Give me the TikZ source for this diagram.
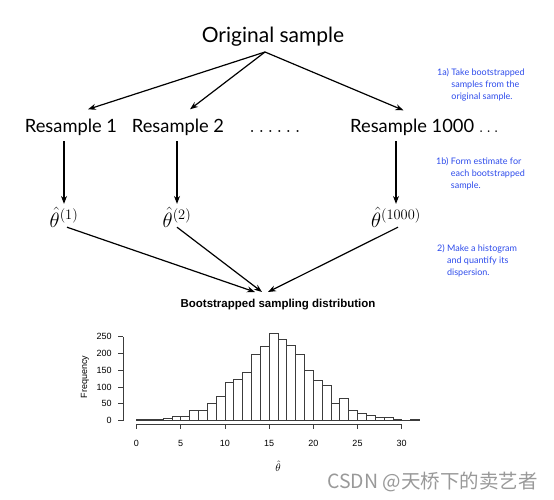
\documentclass[tikz,border=0pt]{standalone}
\usepackage{amsmath}
\usepackage{xcolor}
\usepackage[no-math]{fontspec}
\usetikzlibrary{arrows, arrows.meta}
\newfontfamily\gillfont{Lato}
\newfontfamily\rfont{Liberation Sans}
\newfontfamily\cjkfont{Noto Sans CJK SC}
\definecolor{noteblue}{RGB}{45,75,235}
\definecolor{bargray}{RGB}{60,60,60}

\begin{document}
\begin{tikzpicture}[x=1pt, y=-1pt,
  big/.style={font=\gillfont\fontsize{18.3}{22}\selectfont, inner sep=0pt, anchor=base},
  est/.style={font=\fontsize{21}{25}\selectfont, inner sep=0pt, anchor=base},
  note/.style={font=\gillfont\fontsize{9}{12}\selectfont, text=noteblue, anchor=west, inner sep=0pt},
  arr/.style={-{Stealth[length=8pt,width=6pt]}, line width=1.2pt},
  bar/.style={draw=bargray, fill=white, line width=0.7pt},
  ax/.style={draw=bargray, line width=0.7pt},
  rlab/.style={font=\rfont\fontsize{9}{10}\selectfont, inner sep=0pt}]
\useasboundingbox (0,0) rectangle (554,500);
\node[big, font=\gillfont\fontsize{21}{25}\selectfont] (orig) at (273,43) {Original sample};
\node[big] (r1) at (71,133) {Resample 1};
\node[big] (r2) at (178,133) {Resample 2};
\node[big, font=\fontsize{21}{25}\selectfont] (dots) at (275,133) {$\ldots\ldots$};
\node[big, anchor=base west] (r1000) at (350,133) {Resample 1000 $\ldots$};
\node[est] (t1) at (64,227) {$\hat{\theta}^{(1)}$};
\node[est] (t2) at (177,227) {$\hat{\theta}^{(2)}$};
\node[est] (t1000) at (396,227) {$\hat{\theta}^{(1000)}$};
\coordinate (apex) at (265,52);
\coordinate (hist) at (262,292);
\draw[arr] (apex) -- ([shift={(17,-10)}]r1.north);
\draw[arr] (apex) -- ([shift={(12,-10)}]r2.north);
\draw[arr] (apex) -- ([shift={(-21,-9)}]r1000.north);
\draw[arr, shorten >=3pt] (t1.north |- r1.south) ++(0,5) -- (t1.north);
\draw[arr, shorten >=3pt] (t2.north |- r2.south) ++(0,5) -- (t2.north);
\draw[arr, shorten >=3pt] (t1000.north |- r1000.south) ++(0,5) -- (t1000.north);
\draw[arr] ([xshift=3pt]t1.south) -- ([xshift=-7pt]hist);
\draw[arr] (t2.south) -- (hist);
\draw[arr] ([xshift=2pt]t1000.south) -- ([xshift=6pt]hist);
\node[note] (n1) at (437,85) {\begin{tabular}{@{}l@{\ }l@{}}1a) & Take bootstrapped\\ & samples from the\\ & original sample.\end{tabular}};
\node[note] (n2) at (436,174) {\begin{tabular}{@{}l@{\ }l@{}}1b) & Form estimate for\\ & each bootstrapped\\ & sample.\end{tabular}};
\node[note] (n3) at (437,261) {\begin{tabular}{@{}l@{\ }l@{}}2) & Make a histogram\\ & and quantify its\\ & dispersion.\end{tabular}};
\node[font=\rfont\bfseries\fontsize{11.5}{14}\selectfont, inner sep=0pt] (title) at (278,305) {Bootstrapped sampling distribution};
\foreach \c [count=\i from 0] in {2,3,4,5,11,11,29,29,51,72,113,122,144,197,220,261,241,224,196,150,120,104,51,66,30,22,16,10,8,4,0,3}
  \draw[bar] ({136.5+8.84*\i},420.5) rectangle ++(8.84,{-0.335*\c});
\draw[ax] (123,420.5) -- (123,336.7);
\foreach \f in {0,50,...,250}
  \draw[ax] (123,{420.5-0.335*\f}) -- ++(-5,0) node[rlab, anchor=east, xshift=-6pt] (yl\f) {\f};
\draw[ax] (136.5,424) -- (401.7,424);
\foreach \v in {0,5,...,30}
  \draw[ax] ({136.5+8.84*\v},424) -- ++(0,5) node[rlab, anchor=center, yshift=-14.3pt] (xl\v) {\v};
\node[rlab, rotate=90] (freq) at (85,377) {Frequency};
\node[font=\fontsize{11}{12}\selectfont, inner sep=0pt] (thlab) at (278,466) {$\hat{\theta}$};
\node[font=\cjkfont\fontsize{19.5}{22}\selectfont, text=black!40, anchor=west, inner sep=0pt] (mark) at (327,482) {CSDN @天桥下的卖艺者};
\end{tikzpicture}
\end{document}
